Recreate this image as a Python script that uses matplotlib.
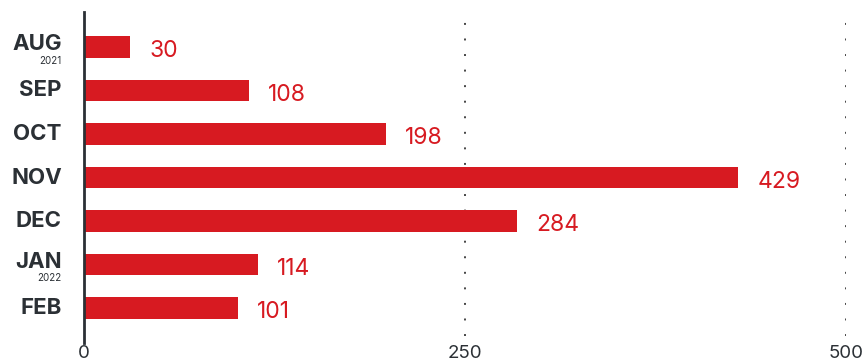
import matplotlib.pyplot as plt

months = ["AUG", "SEP", "OCT", "NOV", "DEC", "JAN", "FEB"]
years = {"AUG": "2021", "JAN": "2022"}
values = [30, 108, 198, 429, 284, 114, 101]
ticks = [0, 250, 500]

red = "#d71a21"
dark = "#2b3035"

plt.rcParams["font.family"] = ["Inter", "DejaVu Sans"]

fig = plt.figure(figsize=(8.68, 3.64), dpi=100)
ax = fig.add_axes([84 / 868, 21 / 364, (846 - 84) / 868, (352 - 21) / 364])

y = list(range(len(months)))
ax.barh(y, values, height=0.5, color=red, zorder=2)

for yi, v in zip(y, values):
    ax.annotate(str(v), (v, yi), xytext=(14, -3), textcoords="offset points",
                va="center", ha="left", fontsize=16.5, color=red)

for yi, m in zip(y, months):
    if m in years:
        ax.annotate(m, (0, yi), xytext=(-16, 2), textcoords="offset points",
                    xycoords=("axes fraction", "data"),
                    va="center", ha="right", fontsize=16, fontweight="bold", color=dark)
        ax.annotate(years[m], (0, yi), xytext=(-16, -10), textcoords="offset points",
                    xycoords=("axes fraction", "data"),
                    va="center", ha="right", fontsize=7, color=dark)
    else:
        ax.annotate(m, (0, yi), xytext=(-16, 0), textcoords="offset points",
                    xycoords=("axes fraction", "data"),
                    va="center", ha="right", fontsize=16, fontweight="bold", color=dark)

for t in ticks[1:]:
    ax.axvline(t, ymin=0.02, ymax=1, color="#444444", linestyle=(0, (1, 7)),
               linewidth=1.4, zorder=1)

ax.set_xlim(0, 500)
ax.set_ylim(6.8, -0.8)
ax.set_yticks([])
ax.set_xticks(ticks)
ax.tick_params(axis="x", length=0, labelsize=13.5, labelcolor=dark, pad=1.5)

for s in ["top", "right", "bottom"]:
    ax.spines[s].set_visible(False)
ax.spines["left"].set_color(dark)
ax.spines["left"].set_linewidth(2)

fig.savefig("out.png", dpi=100)
